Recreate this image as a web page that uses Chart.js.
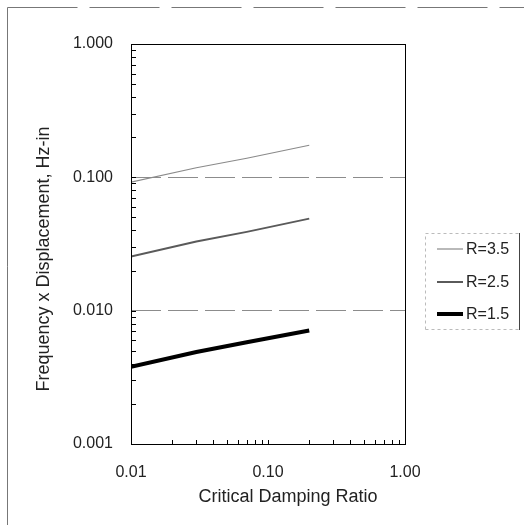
<!doctype html>
<html>
  <head>
    <script src="https://cdn.jsdelivr.net/npm/chart.js"></script>
    <meta name="viewport" content="width=device-width, initial-scale=1" />
    <style>
      html, body {
        margin: 0;
        padding: 0;
        background: #fff;
      }
      #wrap {
        width: 524px;
        height: 525px;
      }
    </style>
  </head>
  <body>
    <div id="wrap"><canvas id="dampChart" width="524" height="525"></canvas></div>
    <script>
      // values (log-log)
      const ratio = [0.01, 0.03, 0.07, 0.2];
      const r35 = [0.092, 0.118, 0.139, 0.174];
      const r25 = [0.0255, 0.033, 0.039, 0.049];
      const r15 = [0.0038, 0.0049, 0.0058, 0.0071];
      const seriesLabels = ["R=3.5", "R=2.5", "R=1.5"];

      const FONT = "'Liberation Sans', Arial, Helvetica, sans-serif";

      function pts(ys) {
        return ratio.map((x, i) => ({ x: x, y: ys[i] }));
      }
      function isDecade(v) {
        const l = Math.log10(v);
        return Math.abs(l - Math.round(l)) < 1e-6;
      }

      // outer frame, plot box, inward tick marks, legend
      const decor = {
        id: "decor",
        beforeDraw(chart) {
          const c = chart.ctx;
          c.save();
          c.strokeStyle = "#777";
          c.lineWidth = 1;
          c.beginPath();
          c.moveTo(7.5, 525);
          c.lineTo(7.5, 7.5);
          c.stroke();
          c.setLineDash([70, 12]);
          c.beginPath();
          c.moveTo(7.5, 7.5);
          c.lineTo(524, 7.5);
          c.stroke();
          c.restore();
        },
        afterDraw(chart) {
          const c = chart.ctx;
          const a = chart.chartArea;
          const xs = chart.scales.x;
          const ys = chart.scales.y;
          c.save();
          c.strokeStyle = "#000";
          c.lineWidth = 1;
          c.strokeRect(a.left + 0.5, a.top + 0.5, a.right - a.left, a.bottom - a.top);

          // minor/major ticks pointing inward
          c.beginPath();
          for (let e = -3; e < 0; e++) {
            for (let m = 1; m <= 9; m++) {
              const v = m * Math.pow(10, e);
              const py = Math.round(ys.getPixelForValue(v)) + 0.5;
              c.moveTo(a.left, py);
              c.lineTo(a.left + 5, py);
            }
          }
          for (let e = -2; e < 0; e++) {
            for (let m = 1; m <= 9; m++) {
              const v = m * Math.pow(10, e);
              const px = Math.round(xs.getPixelForValue(v)) + 0.5;
              c.moveTo(px, a.bottom);
              c.lineTo(px, a.bottom - 4);
            }
          }
          c.stroke();

          // legend box
          const bx = 425, by = 233, bw = 94, bh = 96;
          c.strokeStyle = "#bbb";
          c.setLineDash([3, 3]);
          c.beginPath();
          c.moveTo(bx + 0.5, by + bh + 0.5);
          c.lineTo(bx + 0.5, by + 0.5);
          c.lineTo(bx + bw + 0.5, by + 0.5);
          c.moveTo(bx + 0.5, by + bh + 0.5);
          c.lineTo(bx + bw + 0.5, by + bh + 0.5);
          c.stroke();
          c.setLineDash([]);
          c.strokeStyle = "#444";
          c.beginPath();
          c.moveTo(bx + bw + 0.5, by);
          c.lineTo(bx + bw + 0.5, by + bh + 1);
          c.stroke();

          c.font = "16px " + FONT;
          c.textBaseline = "middle";
          c.textAlign = "left";
          c.fillStyle = "#222";
          const rows = [249, 282, 314];
          chart.data.datasets.forEach((ds, i) => {
            c.strokeStyle = ds.borderColor;
            c.lineWidth = ds.borderWidth;
            c.beginPath();
            c.moveTo(437, rows[i]);
            c.lineTo(463, rows[i]);
            c.stroke();
            c.fillText(ds.label, 466, rows[i] + 1);
          });
          c.restore();
        },
      };

      const ctx = document.getElementById("dampChart").getContext("2d");
      const dampChart = new Chart(ctx, {
        type: "line",
        data: {
          datasets: [
            {
              label: seriesLabels[0],
              data: pts(r35),
              borderColor: "#8a8a8a",
              borderWidth: 1.2,
              pointRadius: 0,
              tension: 0,
            },
            {
              label: seriesLabels[1],
              data: pts(r25),
              borderColor: "#5a5a5a",
              borderWidth: 2,
              pointRadius: 0,
              tension: 0,
            },
            {
              label: seriesLabels[2],
              data: pts(r15),
              borderColor: "#000",
              borderWidth: 4,
              pointRadius: 0,
              tension: 0,
            },
          ],
        },
        options: {
          responsive: false,
          animation: false,
          layout: {
            padding: { left: 0, top: 44, right: 119, bottom: 0 },
          },
          plugins: {
            legend: { display: false },
            tooltip: { enabled: false },
          },
          scales: {
            x: {
              type: "logarithmic",
              position: "bottom",
              min: 0.01,
              max: 1,
              grid: { display: false, drawTicks: false },
              border: { display: false },
              ticks: {
                autoSkip: false,
                maxRotation: 0,
                padding: 19,
                color: "#222",
                font: { family: FONT, size: 16 },
                callback: (v) => (isDecade(v) ? Number(v).toFixed(2) : ""),
              },
              title: {
                display: true,
                // leading spaces nudge the title right, as in the original
                text: "        Critical Damping Ratio",
                color: "#222",
                font: { family: FONT, size: 18 },
                padding: { top: 0, bottom: 17 },
              },
              afterFit(scale) {
                scale.height = 81;
              },
            },
            y: {
              type: "logarithmic",
              position: "left",
              min: 0.001,
              max: 1,
              grid: {
                drawTicks: false,
                lineWidth: 1,
                color: (c) => {
                  const v = c.tick && c.tick.value;
                  return v && isDecade(v) && v < 0.5 && v > 0.002 ? "#8c8c8c" : "rgba(0,0,0,0)";
                },
              },
              border: { display: false, dash: [30, 7] },
              ticks: {
                autoSkip: false,
                padding: 18,
                color: "#222",
                font: { family: FONT, size: 16 },
                callback: (v) => (isDecade(v) ? Number(v).toFixed(3) : ""),
              },
              title: {
                display: true,
                text: "Frequency x Displacement, Hz-in      ",
                color: "#222",
                font: { family: FONT, size: 18 },
                padding: { top: 33, bottom: 0 },
              },
              afterFit(scale) {
                scale.width = 131;
              },
            },
          },
        },
        plugins: [decor],
      });
    </script>
  </body>
</html>
